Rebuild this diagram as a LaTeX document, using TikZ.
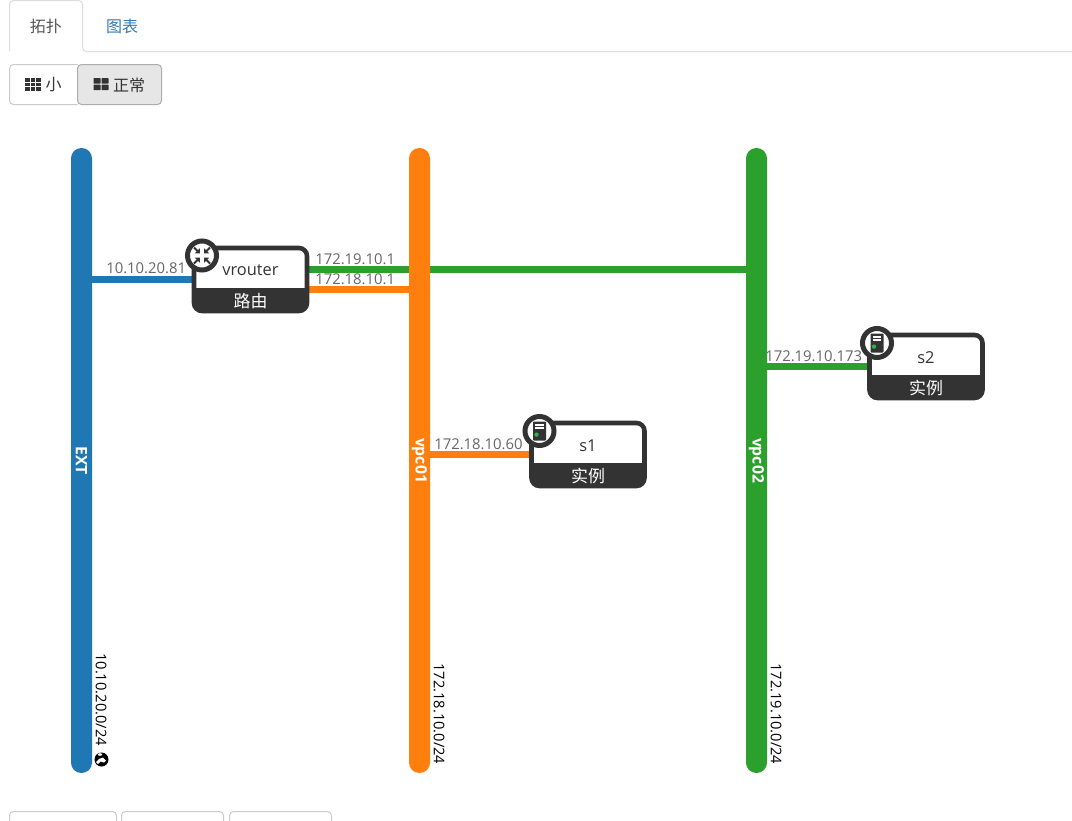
\documentclass[tikz,border=0pt]{standalone}
\usepackage{fontspec}
\setmainfont{Open Sans}
\newfontfamily\cjk{Noto Sans CJK SC}
\usetikzlibrary{backgrounds}
\definecolor{dark}{HTML}{333333}
\definecolor{extblue}{HTML}{1F77B4}
\definecolor{vpcorange}{HTML}{FF7F0E}
\definecolor{vpcgreen}{HTML}{2CA02C}
\definecolor{lbl}{HTML}{666666}
\definecolor{linkblue}{HTML}{337AB7}
\definecolor{tabtxt}{HTML}{555555}
\definecolor{tabline}{HTML}{DDDDDD}
\definecolor{btnline}{HTML}{CCCCCC}
\definecolor{btnon}{HTML}{E6E6E6}
\definecolor{btnonline}{HTML}{ADADAD}
\definecolor{led}{HTML}{2FB34A}
\tikzset{
  px/.style={x=0.75pt,y=-0.75pt},
  netbar/.style={rotate=-90,rectangle,rounded corners=7.8pt,minimum width=468.75pt,minimum height=15.75pt,inner sep=0pt,text=white,font=\bfseries\fontsize{11.8}{13}\selectfont},
  link/.style={line width=5.25pt},
  device/.style={rectangle,draw=dark,fill=white,line width=3.4pt,rounded corners=6pt,minimum width=84.75pt,minimum height=47.25pt,inner sep=0pt,
    path picture={\fill[dark,sharp corners] ([yshift=17.25pt]path picture bounding box.south west) rectangle (path picture bounding box.south east);}},
  badge/.style={circle,draw=dark,fill=white,line width=3.75pt,minimum size=21.75pt,inner sep=0pt},
  iplabel/.style={text=lbl,inner sep=0pt,font=\fontsize{11.15}{12}\selectfont},
  cidr/.style={rotate=-90,inner sep=0pt,text=black,font=\fontsize{11}{12}\selectfont},
  devname/.style={inner sep=0pt,text=dark,font=\fontsize{12.3}{14}\selectfont},
  devkind/.style={inner sep=0pt,text=white,font=\cjk\fontsize{12.7}{14}\selectfont},
  tabtext/.style={inner sep=0pt,font=\cjk\fontsize{12}{14}\selectfont},
  btnbox/.style={draw=btnline,line width=0.75pt,rounded corners=3pt},
  pics/servericon/.style={code={
    \fill[dark,rounded corners=0.7pt] (-6.5,-9.5) rectangle (6.5,9.5);
    \fill[white] (-4.2,-7.3) rectangle (4.2,-1.6);
    \fill[dark] (-4.2,-4.9) rectangle (4.2,-4.1);
    \fill[led] (-3,3.6) circle (2.2);
  }},
  pics/routericon/.style={code={
    \foreach \sx/\sy in {-1/-1,1/-1,-1/1,1/1}{
      \fill[dark] (\sx*2.2,\sy*2.2) -- (\sx*7.2,\sy*2.2) -- (\sx*2.2,\sy*7.2) -- cycle;
      \draw[dark,line width=1.5pt] (\sx*4,\sy*4) -- (\sx*8,\sy*8);
    }
  }}
}
\begin{document}
\begin{tikzpicture}[px]
\useasboundingbox (0,0) rectangle (1072,821);
\clip (0,0) rectangle (1072,821);

% networks
\node[netbar,fill=extblue] (ext) at (81.5,460.5) {EXT};
\node[netbar,fill=vpcorange] (vpc01) at (419.5,460.5) {vpc01};
\node[netbar,fill=vpcgreen] (vpc02) at (756.5,460.5) {vpc02};

% devices
\node[device] (router) at (250.5,279.5) {};
\node[device] (s1) at (588,454.5) {};
\node[device] (s2) at (926,366.5) {};

\node[devname] (routername) at (250.5,270) {vrouter};
\node[devkind] (routerkind) at (250.5,301) {路由};
\node[devname] (s1name) at (588,446) {s1};
\node[devkind] (s1kind) at (588,476) {实例};
\node[devname] (s2name) at (926,358) {s2};
\node[devkind] (s2kind) at (926,388) {实例};

\node[badge] (routerbadge) at (202,255.5) {};
\node[badge] (s1badge) at (539.5,431) {};
\node[badge] (s2badge) at (877,343) {};
\pic at (routerbadge) {routericon};
\pic at (s1badge) {servericon};
\pic at (s2badge) {servericon};

% connector heights
\coordinate (yblue) at (0,279);
\coordinate (ygreen) at (0,269);
\coordinate (yorange) at (0,289);
\coordinate (ys1) at (0,454);
\coordinate (ys2) at (0,366);

\begin{pgfonlayer}{background}
  \fill[white] (0,0) rectangle (1072,821);
  \draw[link,extblue] (ext.center |- yblue) -- (router.center |- yblue);
  \draw[link,vpcgreen] (router.center |- ygreen) -- (vpc02.center |- ygreen);
  \draw[link,vpcorange] (router.center |- yorange) -- (vpc01.center |- yorange);
  \draw[link,vpcorange] (vpc01.center |- ys1) -- (s1.center |- ys1);
  \draw[link,vpcgreen] (vpc02.center |- ys2) -- (s2.center |- ys2);
\end{pgfonlayer}

% address labels
\node[iplabel,anchor=west] (ipext) at (106,268) {10.10.20.81};
\node[iplabel,anchor=west] (iprg) at (315,259) {172.19.10.1};
\node[iplabel,anchor=west] (ipro) at (315,279) {172.18.10.1};
\node[iplabel,anchor=west] (ips1) at (434,444) {172.18.10.60};
\node[iplabel,anchor=west] (ips2) at (765,356) {172.19.10.173};

% subnet labels
\node[cidr,anchor=west] (cidrext) at (101,653) {10.10.20.0/24};
\node[cidr,anchor=west] (cidr1) at (439,663) {172.18.10.0/24};
\node[cidr,anchor=west] (cidr2) at (776,663) {172.19.10.0/24};

% globe
\fill[black] (101.5,759.5) circle (7);
\fill[white] (100,754.5) ellipse (2.2 and 1.3);
\fill[white] (96,762) -- (99,759) -- (103,757.5) -- (106,760.5) -- (104,762.5) -- (100.5,761.5) -- (98,764) -- cycle;

% tabs
\draw[tabline,line width=0.75pt,rounded corners=3pt] (9.5,51) -- (9.5,0.5) -- (82.5,0.5) -- (82.5,51.5) -- (1072,51.5);
\node[tabtext,text=tabtxt] (tab1) at (46,26) {拓扑};
\node[tabtext,text=linkblue] (tab2) at (122,26) {图表};

% view buttons
\draw[btnbox] (77.5,64.5) -- (9.5,64.5) -- (9.5,104.5) -- (77.5,104.5);
\draw[draw=btnonline,fill=btnon,line width=0.75pt,rounded corners=3pt] (77.5,104.5) -- (77.5,64.5) -- (161.5,64.5) -- (161.5,104.5) -- cycle;
\foreach \i in {0,1,2}{\foreach \j in {0,1,2}{
  \fill[dark] (25+\i*5.5,78+\j*4.5) rectangle ++(4.6,3.6);
}}
\foreach \i in {0,1}{\foreach \j in {0,1}{
  \fill[dark,rounded corners=0.4pt] (93.5+\i*8,78+\j*6.5) rectangle ++(7,5.6);
}}
\node[tabtext,text=dark] (btnsmall) at (53.5,85) {小};
\node[tabtext,text=dark] (btnnormal) at (129,85) {正常};

% bottom buttons
\draw[btnbox] (9.5,830) -- (9.5,811.5) -- (116.5,811.5) -- (116.5,830);
\draw[btnbox] (121.5,830) -- (121.5,811.5) -- (223.5,811.5) -- (223.5,830);
\draw[btnbox] (229.5,830) -- (229.5,811.5) -- (331.5,811.5) -- (331.5,830);
\end{tikzpicture}
\end{document}
